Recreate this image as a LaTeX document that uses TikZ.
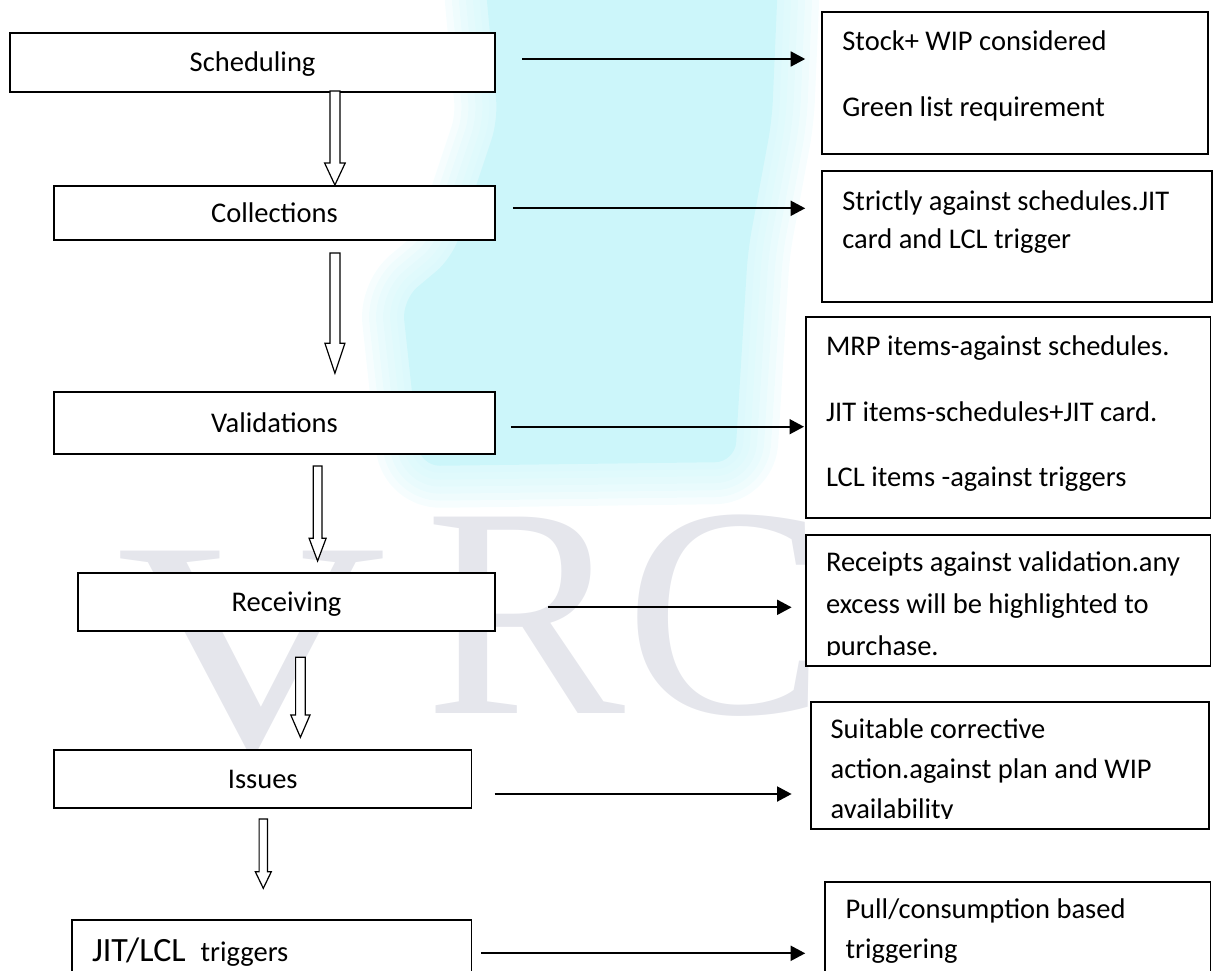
\documentclass[tikz,border=0pt]{standalone}
\usepackage{fontspec}
\setmainfont{Carlito}
\newfontfamily\wmfont{Liberation Serif}
\usetikzlibrary{arrows.meta,calc}
\definecolor{wmcyan}{RGB}{204,246,250}
\definecolor{wmgray}{RGB}{229,230,236}
\newcommand\diagfont{\fontsize{28.5pt}{34pt}\selectfont}
\newcommand\bigdiagfont{\fontsize{34pt}{40pt}\selectfont}
\newcommand\cyanpath{(485,-20) -- (778,-20) -- (772,120) -- (748,250) -- (735,462)
  -- (420,466) -- (402,300) -- (452,258) -- (498,120) -- cycle}
\begin{document}
\begin{tikzpicture}[x=1pt,y=-1pt,
  lbox/.style={draw, line width=1.6pt, fill=white, rectangle, inner sep=0pt, outer sep=0pt,
               text height=18pt, text depth=0pt, font=\diagfont},
  rbox/.style={draw, line width=1.6pt, fill=white, rectangle, inner sep=0pt, outer sep=0pt},
  txt/.style={anchor=base west, inner sep=0pt, outer sep=0pt, font=\diagfont},
  wm/.style={anchor=base west, inner sep=0pt, outer sep=0pt, text=wmgray,
             font=\wmfont\fontsize{300pt}{300pt}\selectfont},
  cyanglow/.style={draw=wmcyan, rounded corners=20pt, line join=round, opacity=0.17},
  harrow/.style={line width=1.8pt, -{Triangle[length=14.5pt,width=15pt]}},
  barrow/.style n args={3}{draw, fill=white, line width=1.2pt, line join=miter,
    to path={let \p1=(\tikztostart), \p2=(\tikztotarget) in
      (\x1-#2,\y1) -- (\x1+#2,\y1) -- (\x1+#2,\y2+#1) -- (\x1+#3,\y2+#1) -- (\x1,\y2)
      -- (\x1-#3,\y2+#1) -- (\x1-#2,\y2+#1) -- cycle}}]

\useasboundingbox (0,0) rectangle (1213,970);

% watermark (soft cyan area and faint letters)
\begin{scope}
  \clip (0,0) rectangle (1213,970);
  \foreach \w in {84,70,56,42,28,14}{
    \draw[cyanglow, line width=\w pt] \cyanpath;
  }
  \fill[wmcyan, rounded corners=20pt] \cyanpath;
\end{scope}
\node[wm, xscale=1.25] (wmV) at (116,747) {V};
\node[wm] (wmRC) at (425,713) {RC};

% left process boxes
\node[lbox, minimum width=484.7pt, minimum height=59pt] (sched) at (252.6,62.5) {Scheduling};
\node[lbox, minimum width=441pt, minimum height=54pt] (coll) at (274.5,213) {Collections};
\node[lbox, minimum width=441pt, minimum height=62pt] (valid) at (274.5,423) {Validations};
\node[lbox, minimum width=417pt, minimum height=58pt] (recv) at (286.5,602) {Receiving};
\node[lbox, minimum width=417.5pt, minimum height=58pt] (issues) at (262.75,779) {Issues};
\node[rbox, minimum width=399.5pt, minimum height=65pt] (jit) at (271.75,952.5) {};
\node[txt] (jitt) at (92,961.7) {{\bigdiagfont JIT/LCL}\hspace{15pt}triggers};

% right description boxes
\node[rbox, minimum width=386.2pt, minimum height=142pt] (r1) at (1014.8,83) {};
\node[rbox, minimum width=390.1pt, minimum height=131pt] (r2) at (1016.75,236.5) {};
\node[rbox, minimum width=404.6pt, minimum height=201pt] (r3) at (1008.3,417.5) {};
\node[rbox, minimum width=404.6pt, minimum height=131pt] (r4) at (1008.3,600.5) {};
\node[rbox, minimum width=397.7pt, minimum height=127pt] (r5) at (1009.85,765.5) {};
\node[rbox, minimum width=385.8pt, minimum height=108pt] (r6) at (1017.7,936) {};

\node[txt] (t1a) at (842.4,50) {Stock+ WIP considered};
\node[txt] (t1b) at (842.4,116.5) {Green list requirement};
\node[txt] (t2a) at (842.4,210) {Strictly against schedules.JIT};
\node[txt] (t2b) at (842.4,248.5) {card and LCL trigger};
\node[txt] (t3a) at (826,355) {MRP items-against schedules.};
\node[txt] (t3b) at (826,421.7) {JIT items-schedules+JIT card.};
\node[txt] (t3c) at (826,486.7) {LCL items -against triggers};
\node[txt] (t4a) at (826,571.7) {Receipts against validation.any};
\node[txt] (t4b) at (826,613.3) {excess will be highlighted to};
\begin{scope}
  \clip (806,535) rectangle (1210,655.5);
  \node[txt] (t4c) at (826,655) {purchase.};
\end{scope}
\node[txt] (t5a) at (830.6,738.3) {Suitable corrective};
\node[txt] (t5b) at (830.6,778) {action.against plan and WIP};
\begin{scope}
  \clip (811,702) rectangle (1208,818.5);
  \node[txt] (t5c) at (830.6,818) {availability};
\end{scope}
\node[txt] (t6a) at (845.5,918.3) {Pull/consumption based};
\node[txt] (t6b) at (845.5,958.3) {triggering};

% horizontal arrows
\draw[harrow] ($(sched.east)+(27.4,-3.5)$) -- ($(sched.east -| r1.west)+(-16.5,-3.5)$);
\draw[harrow] ($(coll.east)+(17.8,-4.7)$) -- ($(coll.east -| r2.west)+(-16.5,-4.7)$);
\draw[harrow] ($(valid.east)+(15.9,3.7)$) -- ($(valid.east -| r3.west)+(-2,3.7)$);
\draw[harrow] ($(recv.east)+(53,5.3)$) -- ($(recv.east -| r4.west)+(-14.4,5.3)$);
\draw[harrow] ($(issues.east)+(23,15)$) -- ($(issues.east -| r5.west)+(-19.4,15)$);
\draw[harrow] ($(jit.east)+(9.9,0.8)$) -- ($(jit.east -| r6.west)+(-19.6,0.8)$);

% hollow block arrows
\coordinate (v1a) at ($(sched.south)+(82.3,-1)$);
\coordinate (v1b) at ($(coll.north)+(60.4,-1)$);
\coordinate (v2a) at ($(coll.south)+(60.4,13)$);
\coordinate (v2b) at ($(valid.north)+(60.4,-18.7)$);
\coordinate (v3a) at ($(valid.south)+(43.1,12)$);
\coordinate (v3b) at ($(recv.north)+(31.1,-12)$);
\coordinate (v4a) at ($(recv.south)+(13.9,26.3)$);
\coordinate (v4b) at ($(issues.north)+(37.65,-12.7)$);
\coordinate (v5a) at ($(issues.south)+(0.55,11)$);
\coordinate (v5b) at ($(jit.north)+(-8.45,-31.7)$);
\draw[barrow={22pt}{5pt}{10.3pt}] (v1a) to (v1b);
\draw[barrow={30pt}{5pt}{10pt}] (v2a) to (v2b);
\draw[barrow={22.7pt}{4.3pt}{8.5pt}] (v3a) to (v3b);
\draw[barrow={22.3pt}{4.8pt}{9.6pt}] (v4a) to (v4b);
\draw[barrow={16.6pt}{4.2pt}{8pt}] (v5a) to (v5b);
\end{tikzpicture}
\end{document}
